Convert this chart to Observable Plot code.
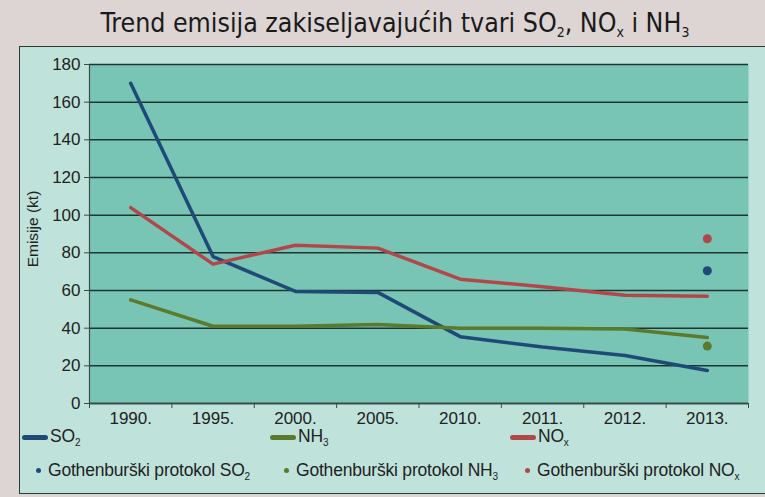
<!DOCTYPE html>
<html>
<head>
<meta charset="utf-8">
<script src="https://cdn.jsdelivr.net/npm/d3@7"></script>
<script src="https://cdn.jsdelivr.net/npm/@observablehq/plot@0.6"></script>
<style>
  html, body { margin: 0; padding: 0; }
  body { width: 765px; height: 497px; background: #ddd4d4; position: relative; overflow: hidden;
         font-family: "Liberation Sans", Arial, sans-serif; color: #222; }
  #title { position: absolute; left: 0; width: 790px; top: 7px; text-align: center;
           font-family: "DejaVu Sans Condensed", "DejaVu Sans", sans-serif; font-size: 26.5px; color: #1a1a1a; }
  #title sub { font-size: 14px; vertical-align: -5px; }
  #panel { position: absolute; left: 19px; top: 46px; width: 760px; height: 446px; background: #bfe3db;
           border-top: 1.5px solid #2c3a36; border-left: 1.5px solid #2c3a36; border-bottom: 1.5px solid #2c3a36; }
  #chart { position: absolute; left: 19px; top: 47px; }
  #chart svg text { font-size: 17px; }
  #ylabel { position: absolute; left: 33px; top: 229px; transform: translate(-50%, -50%) rotate(-90deg);
            font-size: 15.5px; white-space: nowrap; color: #222; }
  .leg { position: absolute; font-size: 17.5px; white-space: nowrap; color: #222; letter-spacing: -0.2px; }
  .leg sub { font-size: 10px; vertical-align: -4px; }
  .sw { position: absolute; height: 5px; border-radius: 3px; }
  .dt { position: absolute; width: 5px; height: 5px; border-radius: 50%; }
</style>
</head>
<body>
<div id="title"></div>
<div id="panel"></div>
<div id="chart"></div>
<div id="ylabel"></div>
<div id="legend"></div>
<script>
// ---- data ----
const years = ["1990.", "1995.", "2000.", "2005.", "2010.", "2011.", "2012.", "2013."];
const so2 = [170, 78, 59.5, 59, 35.5, 30, 25.5, 17.5];
const nh3 = [55, 41, 41, 42, 40, 40, 39.5, 35];
const nox = [104, 74, 84, 82.5, 66, 62, 57.5, 57];
const protocolYear = "2013.";
const protocolSO2 = 70.5;
const protocolNH3 = 30.5;
const protocolNOx = 87.5;
const yTicks = [0, 20, 40, 60, 80, 100, 120, 140, 160, 180];
const colors = {SO2: "#1f4a78", NH3: "#5b7a2c", NOx: "#b2474b"};

// ---- table for Plot ----
const idx = years.map((_, i) => i);
const rows = [];
idx.forEach(i => {
  rows.push({series: "SO2", i, v: so2[i]});
  rows.push({series: "NH3", i, v: nh3[i]});
  rows.push({series: "NOx", i, v: nox[i]});
});
const pi = years.indexOf(protocolYear);
const protocol = [
  {series: "NOx", i: pi, v: protocolNOx},
  {series: "SO2", i: pi, v: protocolSO2},
  {series: "NH3", i: pi, v: protocolNH3}
];
const bounds = d3.range(years.length + 1).map(k => k - 0.5);

const gridColor = "#1e3631";

const plot = Plot.plot({
  width: 746,
  height: 380,
  marginLeft: 70,
  marginRight: 17,
  marginTop: 17,
  marginBottom: 24,
  style: {background: "transparent", fontFamily: "'Liberation Sans', Arial, sans-serif", fontSize: "17px", color: "#222"},
  x: {type: "linear", domain: [-0.5, years.length - 0.5]},
  y: {domain: [0, 180]},
  marks: [
    Plot.frame({fill: "#79c5b5", stroke: null}),
    Plot.gridY(yTicks, {stroke: gridColor, strokeOpacity: 1, strokeWidth: 1.5}),
    Plot.ruleX([-0.5], {stroke: "#3a4a46", strokeWidth: 1.2}),
    Plot.axisY({ticks: yTicks, tickSize: 5, tickPadding: 4, label: null, stroke: "#3a4a46", fill: "#222"}),
    Plot.axisX({ticks: bounds, tickSize: 5, tickFormat: () => "", label: null, stroke: "#3a4a46"}),
    Plot.axisX({ticks: idx, tickSize: 0, tickPadding: 8, tickFormat: i => years[i], label: null, fill: "#222"}),
    Plot.ruleY([0], {stroke: "#3a4a46", strokeWidth: 1.5}),
    Plot.line(rows, {x: "i", y: "v", z: "series", stroke: d => colors[d.series], strokeWidth: 3.5, strokeLinejoin: "round", strokeLinecap: "round"}),
    Plot.dot(protocol, {x: "i", y: "v", r: 4.5, fill: d => colors[d.series], stroke: null})
  ]
});
document.getElementById("chart").appendChild(plot);

document.getElementById("title").innerHTML =
  "Trend emisija zakiseljavajućih tvari SO<sub>2</sub>, NO<sub>x</sub> i NH<sub>3</sub>";
document.getElementById("ylabel").textContent = "Emisije (kt)";

// ---- legend ----
const legend = document.getElementById("legend");
const legendLines = [
  {key: "SO2", label: "SO<sub>2</sub>", x: 22},
  {key: "NH3", label: "NH<sub>3</sub>", x: 270},
  {key: "NOx", label: "NO<sub>x</sub>", x: 510}
];
legendLines.forEach(l => {
  legend.insertAdjacentHTML("beforeend",
    `<div class="sw" style="left:${l.x}px;top:435px;width:26px;background:${colors[l.key]}"></div>` +
    `<div class="leg" style="left:${l.x + 28}px;top:426px">${l.label}</div>`);
});
const legendDots = [
  {key: "SO2", label: "Gothenburški protokol SO<sub>2</sub>", x: 36},
  {key: "NH3", label: "Gothenburški protokol NH<sub>3</sub>", x: 284},
  {key: "NOx", label: "Gothenburški protokol NO<sub>x</sub>", x: 525}
];
legendDots.forEach(l => {
  legend.insertAdjacentHTML("beforeend",
    `<div class="dt" style="left:${l.x}px;top:468px;background:${colors[l.key]}"></div>` +
    `<div class="leg" style="left:${l.x + 12}px;top:460px">${l.label}</div>`);
});
</script>
</body>
</html>
